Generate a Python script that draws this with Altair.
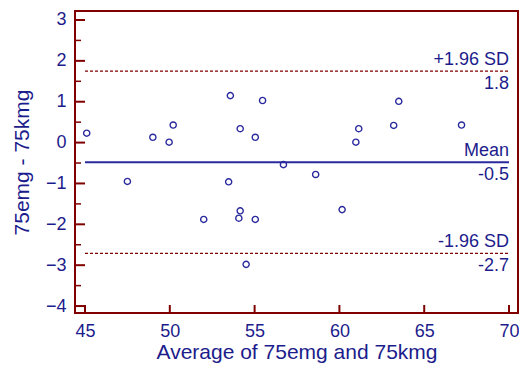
import altair as alt
import pandas as pd

# Data
avg = [45.1, 47.5, 49.0, 49.96, 50.2, 52.0, 53.57, 53.47, 54.15, 54.15, 54.07,
       55.04, 55.04, 54.5, 55.47, 56.7, 58.6, 60.16, 60.97, 61.14, 63.2, 63.5, 67.2]
diff = [0.23, -0.95, 0.13, 0.01, 0.43, -1.88, 1.15, -0.96, 0.34, -1.67, -1.85,
        0.13, -1.88, -2.98, 1.03, -0.54, -0.78, -1.64, 0.01, 0.34, 0.42, 1.01, 0.43]

mean_val = -0.48
upper_val = 1.75
lower_val = -2.71
line_start = 45
line_end = 70

top_labels = ["+1.96 SD", "Mean", "-1.96 SD"]
bottom_labels = ["1.8", "-0.5", "-2.7"]

x_ticks = [45, 50, 55, 60, 65, 70]
y_major = [-4, -3, -2, -1, 0, 1, 2, 3]
y_minor = [-3.5, -2.5, -1.5, -0.5, 0.5, 1.5, 2.5]

NAVY = "#1c1c8c"
MARK = "#2a2a9e"
RED = "#800000"
FONT = "Liberation Sans"
W, H = 443, 302

xs = alt.Scale(domain=[44.41, 70.53], nice=False, zero=False)
ys = alt.Scale(domain=[-4.17, 3.22], nice=False, zero=False)

pts = pd.DataFrame({"a": avg, "d": diff})
points = alt.Chart(pts).mark_point(
    shape="circle", filled=False, size=38, strokeWidth=1.4, color=MARK, opacity=1
).encode(
    x=alt.X("a:Q", scale=xs,
            axis=alt.Axis(title="Average of 75emg and 75kmg", values=x_ticks,
                          ticks=False, domain=False, grid=False, labelPadding=9,
                          titleY=45, titleBaseline="alphabetic")),
    y=alt.Y("d:Q", scale=ys,
            axis=alt.Axis(title="75emg - 75kmg", values=y_major, ticks=False,
                          domain=False, grid=False, labelPadding=9,
                          titleX=-53, titleY=151, titleBaseline="middle")),
)

lines = pd.DataFrame({
    "y": [upper_val, mean_val, lower_val],
    "x1": [line_start] * 3,
    "x2": [line_end] * 3,
    "kind": ["sd", "mean", "sd"],
    "top": top_labels,
    "bottom": bottom_labels,
})

dashed = alt.Chart(lines).transform_filter(alt.datum.kind == "sd").mark_rule(
    color=RED, strokeWidth=1.2, strokeDash=[3, 2]
).encode(x=alt.X("x1:Q", scale=xs), x2="x2:Q", y=alt.Y("y:Q", scale=ys))

meanline = alt.Chart(lines).transform_filter(alt.datum.kind == "mean").mark_rule(
    color=MARK, strokeWidth=2
).encode(x=alt.X("x1:Q", scale=xs), x2="x2:Q", y=alt.Y("y:Q", scale=ys))

toptext = alt.Chart(lines).mark_text(
    align="right", baseline="alphabetic", dy=-6, fontSize=18, font=FONT, color=NAVY
).encode(x=alt.X("x2:Q", scale=xs), y=alt.Y("y:Q", scale=ys), text="top:N")

bottext = alt.Chart(lines).mark_text(
    align="right", baseline="alphabetic", dy=18, fontSize=18, font=FONT, color=NAVY
).encode(x=alt.X("x2:Q", scale=xs), y=alt.Y("y:Q", scale=ys), text="bottom:N")

ymaj = alt.Chart(pd.DataFrame({"v": y_major})).mark_rule(color=RED, strokeWidth=2).encode(
    y=alt.Y("v:Q", scale=ys), x=alt.value(0), x2=alt.value(10))
ymin = alt.Chart(pd.DataFrame({"v": y_minor})).mark_rule(color=RED, strokeWidth=1.5).encode(
    y=alt.Y("v:Q", scale=ys), x=alt.value(0), x2=alt.value(6))
xt = alt.Chart(pd.DataFrame({"v": x_ticks})).mark_rule(color=RED, strokeWidth=2).encode(
    x=alt.X("v:Q", scale=xs), y=alt.value(H), y2=alt.value(H - 8))

chart = alt.layer(dashed, meanline, ymaj, ymin, xt, points, toptext, bottext).properties(
    width=W, height=H,
    autosize=alt.AutoSizeParams(type="none"),
    padding={"left": 67, "top": 3, "right": 1, "bottom": 50},
).configure_view(
    stroke=RED, strokeWidth=2
).configure_axis(
    labelFont=FONT, labelFontSize=18, labelColor=NAVY,
    titleFont=FONT, titleFontSize=21, titleColor=NAVY, titleFontWeight="normal",
)

chart.save("out.html", embed_options={"renderer": "svg", "actions": False})
